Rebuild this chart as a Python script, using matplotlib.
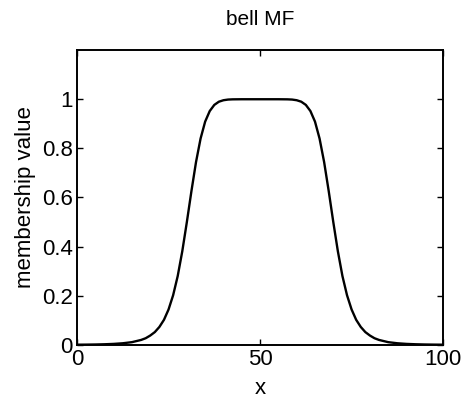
"""Generalized bell membership function, redrawn from a scanned figure."""

import matplotlib

matplotlib.use("Agg")
import matplotlib.pyplot as plt

# values (symmetric about x = 50)
x_values = [0, 2.5, 5, 7.5, 10, 12.5, 15, 17.5, 18.75, 20, 21.25, 22.5, 23.75, 25,
            26.25, 27.5, 28.75, 30, 31.25, 32.5, 33.75, 35, 36.25, 37.5, 38.75, 40,
            41.25, 42.5, 45, 47.5, 50, 52.5, 55, 57.5, 58.75, 60, 61.25, 62.5,
            63.75, 65, 66.25, 67.5, 68.75, 70, 71.25, 72.5, 73.75, 75, 76.25, 77.5,
            78.75, 80, 81.25, 82.5, 85, 87.5, 90, 92.5, 95, 97.5, 100]
membership = [0.0007, 0.001, 0.0015, 0.0024, 0.0039, 0.0065, 0.011, 0.020, 0.027,
              0.038, 0.052, 0.073, 0.102, 0.144, 0.202, 0.280, 0.381, 0.500, 0.626,
              0.744, 0.840, 0.909, 0.952, 0.977, 0.990, 0.996, 0.9987, 0.9996, 1.0,
              1.0, 1.0, 1.0, 1.0, 0.9996, 0.9987, 0.996, 0.990, 0.977, 0.952, 0.909,
              0.840, 0.744, 0.626, 0.500, 0.381, 0.280, 0.202, 0.144, 0.102, 0.073,
              0.052, 0.038, 0.027, 0.020, 0.011, 0.0065, 0.0039, 0.0024, 0.0015,
              0.001, 0.0007]
x_ticks = [0, 50, 100]
y_ticks = [0, 0.2, 0.4, 0.6, 0.8, 1]
y_tick_labels = ["0", "0.2", "0.4", "0.6", "0.8", "1"]

plt.rcParams.update({"font.family": ["Liberation Sans", "DejaVu Sans"]})

fig = plt.figure(figsize=(4.64, 4.01), dpi=100)
ax = fig.add_axes([0.166, 0.140, 0.789, 0.735])
ax.plot(x_values, membership, color="black", linewidth=1.7)

ax.set_xlim(0, 100)
ax.set_ylim(0, 1.2)
ax.set_xticks(x_ticks)
ax.set_yticks(y_ticks)
ax.set_yticklabels(y_tick_labels)
ax.tick_params(direction="in", top=True, right=True, length=4, width=1,
               labelsize=16, pad=3)
for spine in ax.spines.values():
    spine.set_linewidth(1.4)

ax.set_title("bell MF", fontsize=15, pad=18)
ax.set_xlabel("x", fontsize=16, labelpad=6)
ax.set_ylabel("membership value", fontsize=16, labelpad=4)

fig.savefig("out.png", dpi=100)
plt.close(fig)
